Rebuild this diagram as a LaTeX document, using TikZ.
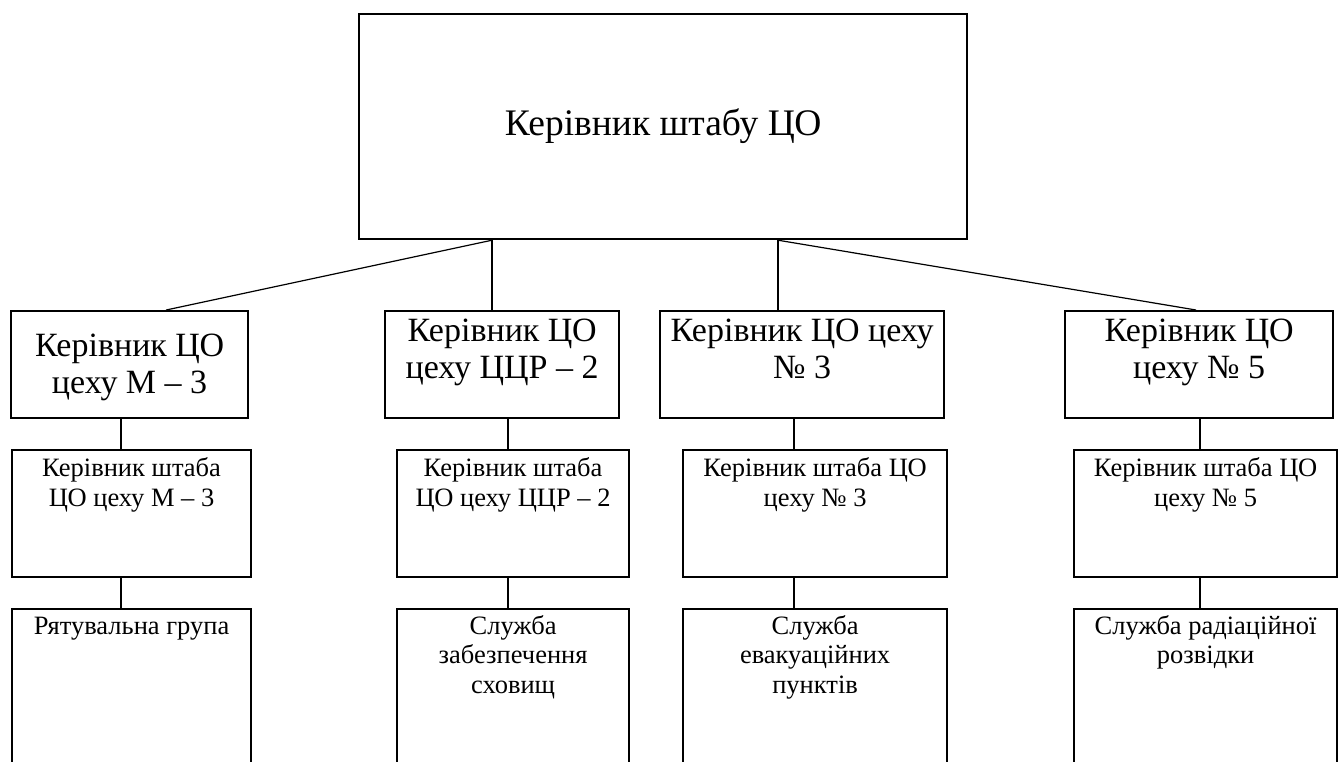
\documentclass[tikz,border=0pt]{standalone}
\usepackage{fontspec}
\setmainfont{Liberation Serif}
\usetikzlibrary{positioning}

\begin{document}
\begin{tikzpicture}[x=1pt, y=-1pt,
    chief/.style={draw, line width=2.2pt, anchor=north west, inner sep=0pt,
                  minimum width=608pt, minimum height=225pt, font=\fontsize{37.5}{43}\selectfont},
    head/.style={draw, line width=2.2pt, anchor=north west, inner sep=0pt, align=center,
                 font=\fontsize{34}{37}\selectfont, text height=67pt, text depth=40pt},
    staff/.style={draw, line width=2.2pt, anchor=north west, inner sep=0pt, align=center,
                  font=\fontsize{26.5}{30}\selectfont, text height=56pt, text depth=71pt},
    unit/.style={draw, line width=2.2pt, anchor=north west, inner sep=0pt, align=center,
                 font=\fontsize{26.5}{29.5}\selectfont, text height=25pt, text depth=220pt},
    link/.style={line width=1.8pt},
    slant/.style={line width=1.2pt}
]
    \useasboundingbox (0,0) rectangle (1340,761);

    \node[chief] (top) at (358,13) {Керівник штабу ЦО};

    % heads of the shops
    \node[head, minimum width=237pt, text height=82pt, text depth=25pt] (a2) at (10,310) {Керівник ЦО\\цеху М – 3};
    \node[head, minimum width=234pt] (b2) at (384,310) {Керівник ЦО\\цеху ЦЦР – 2};
    \node[head, minimum width=284pt] (c2) at (659,310) {Керівник ЦО цеху\\№ 3};
    \node[head, minimum width=268pt] (d2) at (1064,310) {Керівник ЦО\\цеху № 5};

    % staff chiefs
    \node[staff, minimum width=239pt] (a3) at (11,449) {Керівник штаба\\ЦО цеху М – 3};
    \node[staff, minimum width=232pt] (b3) at (396,449) {Керівник штаба\\ЦО цеху ЦЦР – 2};
    \node[staff, minimum width=264pt] (c3) at (682,449) {Керівник штаба ЦО\\цеху № 3};
    \node[staff, minimum width=263pt] (d3) at (1073,449) {Керівник штаба ЦО\\цеху № 5};

    % services
    \node[unit, minimum width=239pt] (a4) at (11,608) {Рятувальна група};
    \node[unit, minimum width=232pt, text height=84pt, text depth=161pt] (b4) at (396,608) {Служба\\забезпечення\\сховищ};
    \node[unit, minimum width=264pt, text height=84pt, text depth=161pt] (c4) at (682,608) {Служба\\евакуаційних\\пунктів};
    \node[unit, minimum width=263pt, text height=54.5pt, text depth=190.5pt] (d4) at (1073,608) {Служба радіаційної\\розвідки};

    \coordinate (fork1) at ([xshift=134pt]top.south west);
    \coordinate (fork2) at ([xshift=420pt]top.south west);
    \draw[slant] (fork1) -- ([xshift=36.5pt]a2.north);
    \draw[link] (fork1) -- (fork1 |- b2.north);
    \draw[link] (fork2) -- (fork2 |- c2.north);
    \draw[slant] (fork2) -- ([xshift=-3pt]d2.north);

    \foreach \col/\dx in {a/111, b/123.7, c/135, d/136} {
        \coordinate (p\col) at ([xshift=\dx pt]\col2.south west);
        \draw[link] (p\col) -- (p\col |- \col3.north);
        \draw[link] (p\col |- \col3.south) -- (p\col |- \col4.north);
    }
\end{tikzpicture}
\end{document}
